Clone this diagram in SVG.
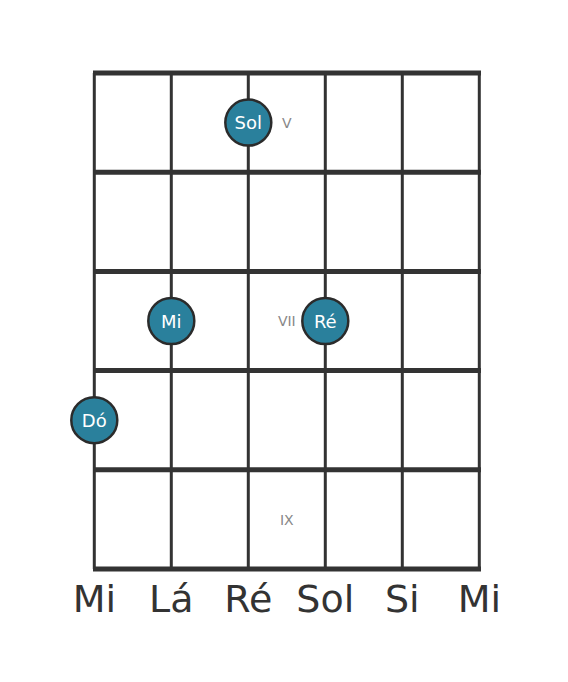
<svg xmlns="http://www.w3.org/2000/svg" width="568" height="682" viewBox="0 0 568 682">
<style>
.fret{stroke:#333;stroke-width:5}
.str{stroke:#333;stroke-width:3}
.dot{fill:#2a809c;stroke:#2b2b2b;stroke-width:2.5}
.dl{font-family:"DejaVu Sans",sans-serif;font-size:18px;fill:#fff;text-anchor:middle;dominant-baseline:central}
.fl{font-family:"DejaVu Sans",sans-serif;font-size:14px;fill:#888;text-anchor:middle;dominant-baseline:central}
.sl{font-family:"DejaVu Sans",sans-serif;font-size:38px;fill:#333;text-anchor:middle}
</style>
<rect width="568" height="682" fill="#fff"/>
<g id="grid">
<line class="str" x1="94.3" y1="73" x2="94.3" y2="569"/>
<line class="str" x1="171.3" y1="73" x2="171.3" y2="569"/>
<line class="str" x1="248.3" y1="73" x2="248.3" y2="569"/>
<line class="str" x1="325.3" y1="73" x2="325.3" y2="569"/>
<line class="str" x1="402.3" y1="73" x2="402.3" y2="569"/>
<line class="str" x1="479.3" y1="73" x2="479.3" y2="569"/>
<line class="fret" x1="93" y1="73" x2="481" y2="73"/>
<line class="fret" x1="93" y1="172.2" x2="481" y2="172.2"/>
<line class="fret" x1="93" y1="271.4" x2="481" y2="271.4"/>
<line class="fret" x1="93" y1="370.6" x2="481" y2="370.6"/>
<line class="fret" x1="93" y1="469.8" x2="481" y2="469.8"/>
<line class="fret" x1="93" y1="569" x2="481" y2="569"/>
</g>
<g id="fret-labels">
<text class="fl" x="286.8" y="123">V</text>
<text class="fl" x="286.8" y="321">VII</text>
<text class="fl" x="286.8" y="520">IX</text>
</g>
<g id="note-sol"><circle class="dot" cx="248.3" cy="122.6" r="23"/><text class="dl" x="248.3" y="122.6">Sol</text></g>
<g id="note-mi"><circle class="dot" cx="171.3" cy="321" r="23"/><text class="dl" x="171.3" y="321">Mi</text></g>
<g id="note-re"><circle class="dot" cx="325.3" cy="321" r="23"/><text class="dl" x="325.3" y="321">Ré</text></g>
<g id="note-do"><circle class="dot" cx="94.3" cy="420.2" r="23"/><text class="dl" x="94.3" y="420.2">Dó</text></g>
<g id="string-labels">
<text class="sl" x="94.3" y="612">Mi</text>
<text class="sl" x="171.3" y="612">Lá</text>
<text class="sl" x="248.3" y="612">Ré</text>
<text class="sl" x="325.3" y="612">Sol</text>
<text class="sl" x="402.3" y="612">Si</text>
<text class="sl" x="479.3" y="612">Mi</text>
</g>
</svg>
